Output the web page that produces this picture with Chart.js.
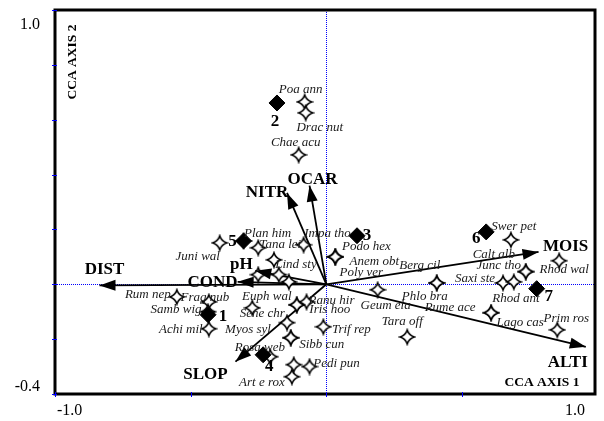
<!DOCTYPE html>
<html>
<head>
<meta charset="utf-8">
<script src="https://cdn.jsdelivr.net/npm/chart.js@4"></script>
<style>
  html, body { margin: 0; padding: 0; background: #fff; }
  #wrap { width: 604px; height: 421px; }
</style>
</head>
<body>
<div id="wrap"><canvas id="cca"></canvas></div>
<script>
// CCA biplot: samples (diamonds), species (stars), environmental variables (arrows)
const sampleNames = ["1", "2", "3", "4", "5", "6", "7"];
const sampleX = [-0.436, -0.182, 0.113, -0.233, -0.305, 0.589, 0.775];
const sampleY = [-0.111, 0.661, 0.177, -0.257, 0.158, 0.191, -0.016];

const envNames = ["DIST", "COND", "pH", "NITR", "OCAR", "MOIS", "ALTI", "SLOP"];
const envX = [-0.836, -0.327, -0.262, -0.145, -0.062, 0.782, 0.956, -0.335];
const envY = [-0.004, 0.009, 0.049, 0.333, 0.360, 0.118, -0.228, -0.282];

const speciesNames = [
  "Poa ann", "Drac nut", "Chae acu", "Juni wal", "Plan him", "Tana lei", "Lind sty",
  "Impa tho", "Podo hex", "Anem obt", "Poly ver", "Rum nep", "Frag nub", "Samb wig",
  "Achi mil", "Myos syl", "Sene chr", "Euph wal", "Ranu hir", "Iris hoo", "Rosa web",
  "Sibb cun", "Trif rep", "Art e rox", "Pedi pun", "Geum ela", "Tara off", "Berg cil",
  "Phlo bra", "Rume ace", "Lago cas", "Prim ros", "Saxi ste", "Rhod ant", "Junc tho",
  "Calt alb", "Rhod wal", "Swer pet", "", "", "", "", ""
];
const speciesX = [
  -0.080, -0.076, -0.102, -0.393, -0.305, -0.251, -0.193,
  -0.084, 0.033, 0.033, 0.033, -0.551, -0.433, -0.436,
  -0.433, -0.145, -0.273, -0.109, -0.073, -0.109, -0.131,
  -0.131, -0.011, -0.127, -0.062, 0.189, 0.298, 0.407,
  0.407, 0.607, 0.607, 0.851, 0.651, 0.691, 0.735,
  0.735, 0.858, 0.680, -0.207, -0.120, -0.251, -0.175, -0.138
];
const speciesY = [
  0.665, 0.625, 0.472, 0.151, 0.158, 0.133, 0.089,
  0.144, 0.100, 0.100, 0.100, -0.046, -0.064, -0.100,
  -0.162, -0.140, -0.086, -0.075, -0.064, -0.075, -0.195,
  -0.195, -0.155, -0.337, -0.300, -0.020, -0.192, 0.005,
  0.005, -0.104, -0.104, -0.166, 0.005, 0.009, 0.046,
  0.046, 0.086, 0.162, -0.264, -0.293, 0.035, 0.035, 0.009
];

const xTickLabels = ["-1.0", "1.0"];
const yTickLabels = ["1.0", "-0.4"];

// label offsets in pixels from each symbol / arrow tip
const speciesLabelOffset = {
  "Poa ann": [-4, -12], "Drac nut": [14, 15], "Chae acu": [-3, -12], "Juni wal": [-22, 14],
  "Plan him": [24, -7], "Tana lei": [22, -3], "Lind sty": [22, 5], "Impa tho": [24, -11],
  "Podo hex": [31, -10], "Anem obt": [39, 5], "Poly ver": [26, 16], "Rum nep": [-29, -2],
  "Frag nub": [-4, -4], "Samb wig": [-32, -2], "Achi mil": [-28, 1], "Myos syl": [-39, 7],
  "Sene chr": [10, 6], "Euph wal": [-30, -8], "Ranu hir": [25, -1], "Iris hoo": [33, 5],
  "Rosa web": [-31, 10], "Sibb cun": [31, 7], "Trif rep": [28, 3], "Art e rox": [-30, 6],
  "Pedi pun": [27, -3], "Geum ela": [8, 16], "Tara off": [-5, -15], "Berg cil": [-17, -17],
  "Phlo bra": [-12, 14], "Rume ace": [-41, -5], "Lago cas": [29, 10], "Prim ros": [9, -11],
  "Saxi ste": [-28, -4], "Rhod ant": [2, 17], "Junc tho": [-27, -6], "Calt alb": [-32, -17],
  "Rhod wal": [5, 9], "Swer pet": [3, -13]
};
const envLabelOffset = [[5, -16], [-25, 1], [-14, -6], [-20, 0], [3, -6], [27, -5], [-18, 16], [-30, 13]];
const sampleLabelOffset = [[15, 2], [-2, 19], [10, 0], [6, 12], [-11, 1], [-10, 7], [12, 8]];

// open four-pointed star used for species
function makeStar() {
  const c = document.createElement("canvas");
  c.width = 18; c.height = 18;
  const g = c.getContext("2d");
  const m = 9, r = 7, k = 1.7;
  g.beginPath();
  g.moveTo(m, m - r);
  g.quadraticCurveTo(m + k, m - k, m + r, m);
  g.quadraticCurveTo(m + k, m + k, m, m + r);
  g.quadraticCurveTo(m - k, m + k, m - r, m);
  g.quadraticCurveTo(m - k, m - k, m, m - r);
  g.closePath();
  g.fillStyle = "#fff";
  g.fill();
  g.lineWidth = 1.6;
  g.lineJoin = "miter";
  g.strokeStyle = "#000";
  g.stroke();
  return c;
}
const star = makeStar();

const arrowSets = envNames.map((name, i) => ({
  label: name,
  type: "line",
  data: [{ x: 0, y: 0 }, { x: envX[i], y: envY[i] }],
  borderColor: "#000",
  borderWidth: 1.8,
  pointRadius: 0,
  showLine: true,
  order: 3
}));

const speciesSet = {
  label: "species",
  data: speciesX.map((x, i) => ({ x: x, y: speciesY[i] })),
  pointStyle: star,
  order: 2
};

const sampleSet = {
  label: "samples",
  data: sampleX.map((x, i) => ({ x: x, y: sampleY[i] })),
  pointStyle: "rectRot",
  pointRadius: 8,
  backgroundColor: "#000",
  borderColor: "#000",
  order: 1
};

const serif = "'Liberation Serif', 'Times New Roman', serif";

const frame = {
  id: "frame",
  beforeDatasetsDraw(chart) {
    const { ctx, chartArea: a, scales: { x, y } } = chart;
    const x0 = x.getPixelForValue(0), y0 = y.getPixelForValue(0);
    ctx.save();
    ctx.strokeStyle = "#0000ff";
    ctx.lineWidth = 1;
    ctx.setLineDash([1, 1]);
    ctx.beginPath();
    ctx.moveTo(Math.round(x0) + 0.5, a.top);
    ctx.lineTo(Math.round(x0) + 0.5, a.bottom);
    ctx.moveTo(a.left, Math.round(y0) + 0.5);
    ctx.lineTo(a.right, Math.round(y0) + 0.5);
    ctx.stroke();
    ctx.restore();
  },
  afterDatasetsDraw(chart) {
    const { ctx, chartArea: a, scales: { x, y } } = chart;
    ctx.save();

    // arrow heads
    const ox = x.getPixelForValue(0), oy = y.getPixelForValue(0);
    ctx.fillStyle = "#000";
    envNames.forEach((n, i) => {
      const tx = x.getPixelForValue(envX[i]), ty = y.getPixelForValue(envY[i]);
      const ang = Math.atan2(ty - oy, tx - ox);
      const len = 16, half = 5.5;
      ctx.beginPath();
      ctx.moveTo(tx, ty);
      ctx.lineTo(tx - len * Math.cos(ang) + half * Math.sin(ang), ty - len * Math.sin(ang) - half * Math.cos(ang));
      ctx.lineTo(tx - len * Math.cos(ang) - half * Math.sin(ang), ty - len * Math.sin(ang) + half * Math.cos(ang));
      ctx.closePath();
      ctx.fill();
    });

    // species names
    ctx.textAlign = "center";
    ctx.textBaseline = "middle";
    ctx.fillStyle = "#1a1a1a";
    ctx.font = "italic 13px " + serif;
    speciesNames.forEach((n, i) => {
      if (!n) return;
      const off = speciesLabelOffset[n] || [0, -12];
      ctx.fillText(n, x.getPixelForValue(speciesX[i]) + off[0], y.getPixelForValue(speciesY[i]) + off[1]);
    });

    // variable and sample names
    ctx.fillStyle = "#000";
    ctx.font = "bold 17px " + serif;
    envNames.forEach((n, i) => {
      ctx.fillText(n, x.getPixelForValue(envX[i]) + envLabelOffset[i][0], y.getPixelForValue(envY[i]) + envLabelOffset[i][1]);
    });
    sampleNames.forEach((n, i) => {
      ctx.fillText(n, x.getPixelForValue(sampleX[i]) + sampleLabelOffset[i][0], y.getPixelForValue(sampleY[i]) + sampleLabelOffset[i][1]);
    });

    // axis titles
    ctx.font = "bold 13.5px " + serif;
    ctx.fillText("CCA AXIS 1", a.right - 53, a.bottom - 11);
    ctx.save();
    ctx.translate(a.left + 18, a.top + 52);
    ctx.rotate(-Math.PI / 2);
    ctx.fillText("CCA AXIS 2", 0, 0);
    ctx.restore();

    // frame
    ctx.strokeStyle = "#000";
    ctx.lineWidth = 3;
    ctx.strokeRect(a.left, a.top, a.right - a.left, a.bottom - a.top);

    // tick marks
    ctx.strokeStyle = "#0000ff";
    ctx.lineWidth = 1;
    ctx.beginPath();
    [-1, -0.5, 0, 0.5].forEach(v => {
      const px = Math.round(x.getPixelForValue(v)) + 0.5;
      ctx.moveTo(px, a.bottom - 2);
      ctx.lineTo(px, a.bottom + 3);
    });
    [1, 0.8, 0.6, 0.4, 0.2, 0, -0.2, -0.4].forEach(v => {
      const py = Math.round(y.getPixelForValue(v)) + 0.5;
      ctx.moveTo(a.left - 3, py);
      ctx.lineTo(a.left + 2, py);
    });
    ctx.stroke();

    // tick labels
    ctx.fillStyle = "#000";
    ctx.font = "16px " + serif;
    ctx.textAlign = "left";
    ctx.fillText(xTickLabels[0], a.left + 2, a.bottom + 17);
    ctx.textAlign = "right";
    ctx.fillText(xTickLabels[1], a.right - 10, a.bottom + 17);
    ctx.fillText(yTickLabels[0], a.left - 15, a.top + 15);
    ctx.fillText(yTickLabels[1], a.left - 15, a.bottom - 7);
    ctx.restore();
  }
};

new Chart(document.getElementById("cca"), {
  type: "scatter",
  data: { datasets: [sampleSet, speciesSet, ...arrowSets] },
  options: {
    responsive: true,
    maintainAspectRatio: false,
    animation: false,
    layout: { padding: { left: 55, right: 2, top: 10, bottom: 27 } },
    plugins: { legend: { display: false }, tooltip: { enabled: false } },
    scales: {
      x: { type: "linear", min: -1.0, max: 0.99, display: false },
      y: { type: "linear", min: -0.4, max: 1.0, display: false }
    }
  },
  plugins: [frame]
});
</script>
</body>
</html>
